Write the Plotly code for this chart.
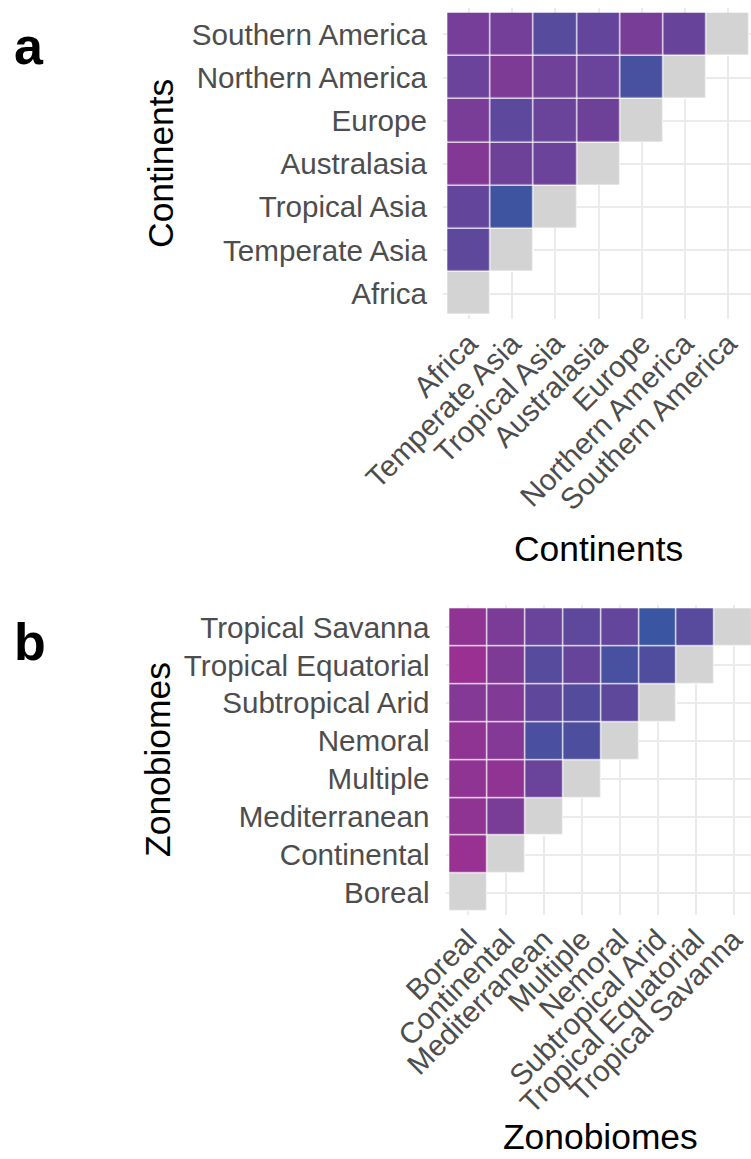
import plotly.graph_objects as go

# Pairwise values between regions (row i against each earlier column j < i)
continents = ["Africa", "Temperate Asia", "Tropical Asia", "Australasia",
              "Europe", "Northern America", "Southern America"]
continent_values = [
    [],
    [0.37],
    [0.42, 0.05],
    [0.76, 0.53, 0.50],
    [0.65, 0.35, 0.49, 0.53],
    [0.50, 0.69, 0.55, 0.49, 0.14],
    [0.61, 0.58, 0.29, 0.42, 0.63, 0.46],
]

zonobiomes = ["Boreal", "Continental", "Mediterranean", "Multiple", "Nemoral",
              "Subtropical Arid", "Tropical Equatorial", "Tropical Savanna"]
zonobiome_values = [
    [],
    [0.96],
    [0.87, 0.65],
    [0.87, 0.87, 0.49],
    [0.87, 0.74, 0.16, 0.20],
    [0.74, 0.72, 0.38, 0.27, 0.36],
    [0.98, 0.69, 0.29, 0.45, 0.14, 0.22],
    [0.87, 0.66, 0.49, 0.37, 0.42, 0.00, 0.31],
]

FONT = "Liberation Sans, Arial, Helvetica, sans-serif"
TICK_GREY = "#4D4D4D"
GRID = "#EBEBEB"
DIAG = "#D3D3D3"
SCALE = [[0.0, "#3A56A2"], [1.0, "#9C2F91"]]

W, H = 751, 1159


def matrices(values):
    n = len(values)
    z = [[None] * n for _ in range(n)]
    diag = [[None] * n for _ in range(n)]
    under = [[None] * n for _ in range(n)]
    for i, row in enumerate(values):
        for j, v in enumerate(row):
            z[i][j] = v
            under[i][j] = 1
        diag[i][i] = 1
        under[i][i] = 1
    return z, diag, under


fig = go.Figure()

panels = [
    dict(labels=continents, values=continent_values, xa="x", ya="y",
         tile=43.2, left=443.0, top=8.4, title="Continents",
         title_y=549, title_anchor="middle", ytitle_x=161, letter="a", letter_y=46),
    dict(labels=zonobiomes, values=zonobiome_values, xa="x2", ya="y2",
         tile=37.9, left=445.5, top=604.5, title="Zonobiomes",
         title_y=H, title_anchor="bottom", ytitle_x=158, letter="b", letter_y=642),
]

layout_axes = {}
annotations = []
for k, p in enumerate(panels):
    n = len(p["labels"])
    z, diag, under = matrices(p["values"])
    pos = list(range(n))
    # white base keeps the grid from showing between the tiles
    fig.add_trace(go.Heatmap(z=under, x=pos, y=pos, xaxis=p["xa"], yaxis=p["ya"],
                             colorscale=[[0, "white"], [1, "white"]],
                             showscale=False, hoverinfo="skip"))
    fig.add_trace(go.Heatmap(z=diag, x=pos, y=pos, xaxis=p["xa"], yaxis=p["ya"],
                             colorscale=[[0, DIAG], [1, DIAG]], xgap=1.2, ygap=1.2,
                             showscale=False, hoverinfo="skip"))
    fig.add_trace(go.Heatmap(z=z, x=pos, y=pos, xaxis=p["xa"], yaxis=p["ya"],
                             colorscale=SCALE, zmin=0, zmax=1, xgap=1.2, ygap=1.2,
                             showscale=False))

    span = (n - 1) + 1.2
    bottom = p["top"] + span * p["tile"]
    x_hi = -0.6 + (W - p["left"]) / p["tile"]
    suffix = "" if k == 0 else "2"
    common = dict(showgrid=True, gridcolor=GRID, gridwidth=2.1, zeroline=False,
                  showline=False, ticks="", automargin=False,
                  tickfont=dict(family=FONT, size=29.6, color=TICK_GREY),
                  tickvals=pos, ticktext=p["labels"])
    layout_axes["xaxis" + suffix] = dict(
        common, domain=[p["left"] / W, 1.0], range=[-0.6, x_hi],
        anchor="y" + suffix, tickangle=-45, ticklabelstandoff=0)
    layout_axes["yaxis" + suffix] = dict(
        common, domain=[1 - bottom / H, 1 - p["top"] / H], range=[-0.6, n - 1 + 0.6],
        anchor="x" + suffix, ticklabelstandoff=15)

    mid_x = (p["left"] + p["left"] + span * p["tile"]) / 2
    mid_y = (p["top"] + bottom) / 2
    annotations += [
        dict(text=p["title"], x=mid_x / W, y=1 - p["title_y"] / H,
             xref="paper", yref="paper", showarrow=False,
             xanchor="center", yanchor=p["title_anchor"],
             font=dict(family=FONT, size=35.4, color="black")),
        dict(text=p["title"], x=p["ytitle_x"] / W, y=1 - mid_y / H,
             xref="paper", yref="paper", showarrow=False, textangle=-90,
             xanchor="center", yanchor="middle",
             font=dict(family=FONT, size=35.4, color="black")),
        dict(text="<b>%s</b>" % p["letter"], x=12 / W, y=1 - p["letter_y"] / H,
             xref="paper", yref="paper", showarrow=False,
             xanchor="left", yanchor="middle",
             font=dict(family=FONT, size=52, color="black")),
    ]

fig.update_layout(
    width=W, height=H,
    margin=dict(l=0, r=0, t=0, b=0),
    paper_bgcolor="white", plot_bgcolor="white",
    showlegend=False,
    annotations=annotations,
    **layout_axes,
)

fig.write_html("out.html")
